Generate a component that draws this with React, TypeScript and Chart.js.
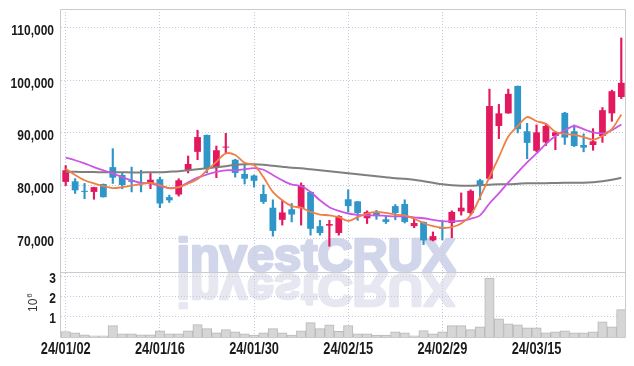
import React, { useEffect, useRef } from 'react';
import { Chart, registerables } from 'chart.js';

Chart.register(...registerables);

const dates = [
  '24/01/02', '24/01/03', '24/01/04', '24/01/05', '24/01/08', '24/01/09', '24/01/10', '24/01/11', '24/01/12', '24/01/15',
  '24/01/16', '24/01/17', '24/01/18', '24/01/19', '24/01/22', '24/01/23', '24/01/24', '24/01/25', '24/01/26', '24/01/29',
  '24/01/30', '24/01/31', '24/02/01', '24/02/02', '24/02/05', '24/02/06', '24/02/07', '24/02/08', '24/02/13', '24/02/14',
  '24/02/15', '24/02/16', '24/02/19', '24/02/20', '24/02/21', '24/02/22', '24/02/23', '24/02/26', '24/02/27', '24/02/28',
  '24/02/29', '24/03/04', '24/03/05', '24/03/06', '24/03/07', '24/03/08', '24/03/11', '24/03/12', '24/03/13', '24/03/14',
  '24/03/15', '24/03/18', '24/03/19', '24/03/20', '24/03/21', '24/03/22', '24/03/25', '24/03/26', '24/03/27', '24/03/28',
];

const opens = [
  80700, 80800, 79000, 78800, 80300, 83500, 82000, 81000, 80600, 80400,
  81200, 77800, 78300, 82900, 86400, 89600, 83400, 87200, 84900, 82200,
  81900, 78400, 75800, 73500, 75500, 75700, 78800, 72300, 72400, 71000,
  77400, 77000, 73800, 74800, 73600, 76100, 76500, 72300, 73100, 69600,
  72000, 72900, 75100, 74800, 81000, 81300, 91300, 93700, 98900, 90300,
  86600, 88200, 89400, 93800, 90300, 87700, 87700, 89400, 93700, 96800,
];
const highs = [
  83800, 81300, 80400, 79700, 80300, 87000, 82400, 83500, 82900, 82300,
  81600, 78200, 81300, 85600, 90500, 89600, 87500, 89900, 85000, 83900,
  82000, 80100, 77300, 77200, 76600, 80500, 78800, 73400, 73400, 74300,
  79200, 77000, 75200, 75300, 74200, 76400, 77300, 73700, 73100, 71200,
  73300, 75200, 78600, 79200, 81200, 98300, 95400, 98300, 98900, 91800,
  91500, 91700, 90200, 93900, 91500, 89800, 90800, 94800, 98100, 108000,
];
const lows = [
  80000, 78500, 77500, 77400, 77800, 80400, 79400, 78800, 78800, 79400,
  75800, 76800, 78000, 82400, 84900, 82400, 81500, 86100, 81600, 80300,
  79700, 76600, 70400, 72500, 73100, 72500, 70600, 70600, 68500, 70600,
  75000, 73400, 72800, 73600, 72800, 73500, 72900, 72000, 68800, 69500,
  69700, 70100, 74400, 74500, 77300, 81200, 88900, 93700, 90000, 85100,
  86400, 87600, 86800, 87800, 87400, 86400, 86700, 88200, 92200, 96500,
];
const closes = [
  82900, 79100, 78800, 79700, 77800, 81500, 80100, 80700, 80400, 81100,
  76600, 77200, 81000, 84100, 89200, 83200, 86700, 87300, 82400, 81300,
  80900, 76900, 71400, 74900, 74500, 80100, 71800, 71000, 72700, 74200,
  76100, 74800, 75000, 74200, 73100, 74800, 73100, 72900, 69600, 70400,
  71800, 75000, 75800, 79000, 80100, 95100, 93700, 97400, 90700, 88100,
  90100, 91300, 90100, 89100, 87500, 87200, 88400, 94300, 97900, 99500,
];

const ma5 = [
  83200, 82000, 81000, 80400, 79900, 79500, 79700, 80000, 80250, 80500,
  80100, 79500, 79700, 80400, 81250, 82900, 84500, 86100, 85800, 84300,
  83900, 81600, 78800, 77200, 76100, 75800, 75000, 74500, 74350, 74000,
  73300, 74000, 74700, 75000, 74800, 74500, 74350, 73700, 72900, 72300,
  72000, 72100, 72800, 74350, 77800, 81600, 85400, 89300, 91300, 93000,
  92200, 91700, 90200, 89800, 89600, 89200, 88700, 89400, 90700, 93500,
];
const ma20 = [
  85300, 84800, 84200, 83500, 82900, 82300, 81600, 81000, 80500, 80400,
  79900, 79500, 79700, 80600, 81500, 82100, 82600, 82900, 82900, 83100,
  83300, 83000, 82000, 81000, 80200, 79900, 78800, 77200, 75900, 75200,
  74700, 74450, 74350, 74350, 74250, 74150, 74150, 73950, 73800, 73500,
  73250, 73200, 73300, 73700, 74350, 76600, 78500, 80600, 82500, 84400,
  86100, 87900, 89400, 90500, 91300, 90700, 90100, 89900, 90500, 91600,
];
const ma60 = [
  82600, 82600, 82580, 82560, 82540, 82530, 82520, 82500, 82500, 82510,
  82520, 82620, 82720, 82910, 83100, 83290, 83480, 83670, 83950, 84050,
  84050, 83950, 83760, 83570, 83380, 83290, 83100, 82910, 82720, 82530,
  82340, 82150, 81960, 81770, 81580, 81390, 81290, 81100, 80820, 80530,
  80250, 80060, 79960, 79960, 80060, 80150, 80250, 80250, 80340, 80440,
  80440, 80440, 80490, 80530, 80530, 80530, 80630, 80820, 81100, 81480,
];

// volume in millions of shares
const volumeM = [
  0.27, 0.21, 0.11, 0.06, 0.06, 0.56, 0.16, 0.16, 0.11, 0.11,
  0.30, 0.16, 0.16, 0.30, 0.61, 0.41, 0.21, 0.36, 0.26, 0.16,
  0.09, 0.21, 0.41, 0.21, 0.09, 0.30, 0.71, 0.41, 0.60, 0.28,
  0.56, 0.16, 0.16, 0.10, 0.10, 0.26, 0.21, 0.06, 0.31, 0.16,
  0.26, 0.56, 0.56, 0.36, 0.50, 2.90, 0.90, 0.65, 0.60, 0.45,
  0.45, 0.21, 0.25, 0.30, 0.21, 0.21, 0.25, 0.75, 0.50, 1.35,
];

const priceTicks = [70000, 80000, 90000, 100000, 110000];
const volumeTicks = [1, 2, 3];
const labelEvery = 10;
const watermarkText = 'investCRUX';

const UP = '#e2195f';
const DOWN = '#2e96c8';
const GRID = '#c4c8dc';
const FRAME = '#cbcbcb';
const LABEL_FONT = "'Liberation Sans', Arial, sans-serif";
const NARROW = 0.8;

function drawWatermark(ctx: any, color: string) {
  ctx.fillStyle = color;
  ctx.strokeStyle = color;
  ctx.lineWidth = 2.6;
  ctx.lineJoin = 'round';
  ctx.strokeText(watermarkText, 0, 0);
  ctx.fillText(watermarkText, 0, 0);
}

const watermarkPlugin = {
  id: 'watermark',
  beforeDraw(chart: any) {
    const { ctx, chartArea } = chart;
    const y = chart.scales.y;
    const yv = chart.scales.yv;
    if (!y || !yv) return;
    ctx.save();
    ctx.font = `bold 46px ${LABEL_FONT}`;
    const w = ctx.measureText(watermarkText).width;
    const sx = 279 / w;
    const left = chartArea.left + 115.5;
    const base = y.bottom - 1.5;
    ctx.textBaseline = 'alphabetic';
    ctx.textAlign = 'left';

    ctx.save();
    ctx.beginPath();
    ctx.rect(chartArea.left, y.top, chartArea.right - chartArea.left, y.bottom - y.top);
    ctx.clip();
    ctx.translate(left, base);
    ctx.scale(sx, 1);
    drawWatermark(ctx, '#d1d6ea');
    ctx.restore();

    ctx.save();
    ctx.beginPath();
    ctx.rect(chartArea.left, yv.top, chartArea.right - chartArea.left, yv.bottom - yv.top);
    ctx.clip();
    ctx.translate(left, base + 3);
    ctx.scale(sx, -1);
    drawWatermark(ctx, '#e6e7f0');
    ctx.restore();

    ctx.restore();
  },
};

function narrowText(ctx: any, text: string, x: number, y: number, align: 'left' | 'right' | 'center') {
  ctx.save();
  ctx.translate(x, y);
  ctx.scale(NARROW, 1);
  ctx.textAlign = align;
  ctx.textBaseline = 'alphabetic';
  ctx.fillText(text, 0, 0);
  ctx.restore();
}

const framePlugin = {
  id: 'frame',
  afterDatasetsDraw(chart: any) {
    const { ctx, chartArea } = chart;
    const x = chart.scales.x;
    const y = chart.scales.y;
    const yv = chart.scales.yv;
    ctx.save();
    ctx.strokeStyle = FRAME;
    ctx.lineWidth = 1;
    const l = Math.round(chartArea.left) - 0.5;
    const r = Math.round(chartArea.right) - 0.5;
    const t = Math.round(chartArea.top) + 0.5;
    const b = Math.round(chartArea.bottom) + 0.5;
    const m = Math.round(y.bottom) + 0.5;
    ctx.beginPath();
    ctx.moveTo(l, t); ctx.lineTo(r, t);
    ctx.moveTo(l, m); ctx.lineTo(r, m);
    ctx.moveTo(l, t); ctx.lineTo(l, b);
    ctx.moveTo(r, t); ctx.lineTo(r, b);
    ctx.moveTo(l, b); ctx.lineTo(r, b);
    ctx.stroke();
    ctx.restore();

    // tick labels (condensed bold)
    ctx.save();
    ctx.fillStyle = '#1a1a1a';
    ctx.font = `bold 15px ${LABEL_FONT}`;
    priceTicks.forEach((v) => {
      narrowText(ctx, v.toLocaleString('en-US'), chartArea.left - 7, y.getPixelForValue(v) + 7.5, 'right');
    });
    volumeTicks.forEach((v) => {
      narrowText(ctx, String(v), chartArea.left - 5, yv.getPixelForValue(v) + 6.5, 'right');
    });
    ctx.font = `bold 16px ${LABEL_FONT}`;
    dates.forEach((d, i) => {
      if (i % labelEvery !== 0) return;
      narrowText(ctx, d, x.getPixelForValue(i), chartArea.bottom + 17.3, 'center');
    });
    ctx.restore();

    // unit label for the volume axis: 10^6, rotated
    ctx.save();
    const x0 = chartArea.left - 24;
    const y0 = (yv.top + yv.bottom) / 2 + 7.5;
    ctx.translate(x0, y0);
    ctx.rotate(-Math.PI / 2);
    ctx.fillStyle = '#333';
    ctx.textAlign = 'left';
    ctx.textBaseline = 'alphabetic';
    ctx.font = `12px ${LABEL_FONT}`;
    ctx.fillText('10', 0, 0);
    const w = ctx.measureText('10').width;
    ctx.font = `8px ${LABEL_FONT}`;
    ctx.fillText('6', w + 1, -5);
    ctx.restore();
  },
};

export default function App() {
  const ref = useRef<HTMLCanvasElement | null>(null);

  useEffect(() => {
    document.body.style.margin = '0';
    const canvas = ref.current;
    if (!canvas) return;
    const colors = closes.map((c, i) => (c >= opens[i] ? UP : DOWN));

    const chart = new Chart(canvas, {
      type: 'bar',
      data: {
        labels: dates,
        datasets: [
          {
            type: 'line', label: 'MA5', data: ma5, yAxisID: 'y', order: 0,
            borderColor: '#ef7f45', borderWidth: 1.8, pointRadius: 0, tension: 0.3, fill: false,
          } as any,
          {
            type: 'line', label: 'MA20', data: ma20, yAxisID: 'y', order: 0,
            borderColor: '#cc55e6', borderWidth: 1.8, pointRadius: 0, tension: 0.3, fill: false,
          } as any,
          {
            type: 'line', label: 'MA60', data: ma60, yAxisID: 'y', order: 0,
            borderColor: '#7f7f7f', borderWidth: 2, pointRadius: 0, tension: 0.3, fill: false,
          } as any,
          {
            type: 'bar', label: 'body', data: opens.map((o, i) => [o, closes[i]]), yAxisID: 'y', order: 1,
            backgroundColor: colors, barPercentage: 0.72, categoryPercentage: 1, grouped: false, minBarLength: 1,
            borderWidth: 0,
          } as any,
          {
            type: 'bar', label: 'wick', data: lows.map((l, i) => [l, highs[i]]), yAxisID: 'y', order: 2,
            backgroundColor: colors, barThickness: 1.5, grouped: false, borderWidth: 0,
          } as any,
          {
            type: 'bar', label: 'volume', data: volumeM, yAxisID: 'yv', order: 3,
            backgroundColor: '#d6d6d6', borderColor: '#b9b9b9', borderWidth: 1,
            barPercentage: 1, categoryPercentage: 1, grouped: false,
          } as any,
        ],
      },
      options: {
        responsive: false,
        animation: false,
        devicePixelRatio: 1,
        events: [],
        layout: { padding: { top: 9, right: 8, left: 0, bottom: 0 } },
        plugins: { legend: { display: false }, tooltip: { enabled: false } },
        scales: {
          x: {
            type: 'category',
            offset: true,
            grid: {
              offset: false,
              drawTicks: false,
              color: (c: any) => (c.index % labelEvery === 0 ? GRID : 'rgba(0,0,0,0)'),
            },
            border: { display: false, dash: [1, 2] },
            ticks: { display: false, autoSkip: false },
            afterFit: (s: any) => { s.height = 29; },
          },
          yv: {
            type: 'linear', position: 'left', stack: 'panel', stackWeight: 65,
            min: 0, max: 3.2,
            afterBuildTicks: (s: any) => { s.ticks = volumeTicks.map((v) => ({ value: v })); },
            grid: { color: GRID, drawTicks: false },
            border: { display: false, dash: [1, 2] },
            ticks: { display: false, autoSkip: false },
            afterFit: (s: any) => { s.width = 61; },
          },
          y: {
            type: 'linear', position: 'left', stack: 'panel', stackWeight: 263,
            min: 63600, max: 113500,
            afterBuildTicks: (s: any) => { s.ticks = priceTicks.map((v) => ({ value: v })); },
            grid: { color: GRID, drawTicks: false },
            border: { display: false, dash: [1, 2] },
            ticks: { display: false, autoSkip: false },
            afterFit: (s: any) => { s.width = 61; },
          },
        },
      } as any,
      plugins: [watermarkPlugin, framePlugin],
    });
    return () => chart.destroy();
  }, []);

  return (
    <div style={{ width: 634, height: 366 }}>
      <canvas ref={ref} width={634} height={366} style={{ display: 'block' }} />
    </div>
  );
}
